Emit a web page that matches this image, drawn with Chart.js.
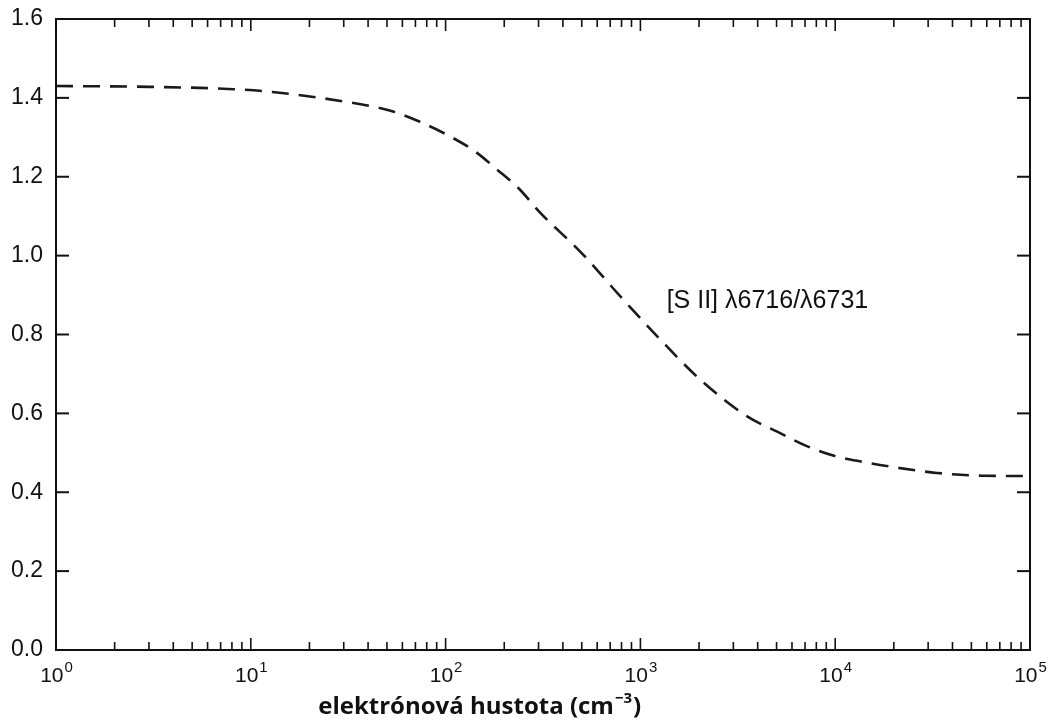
<!DOCTYPE html>
<html>
<head>
<meta charset="utf-8">
<script src="https://cdn.jsdelivr.net/npm/chart.js@4"></script>
<style>
  body { margin: 0; background: #fff; }
  #obal { width: 1052px; height: 726px; }
</style>
</head>
<body>
<div id="obal"><canvas id="graf"></canvas></div>
<script>
// elektrónová hustota (cm^-3) a pomer [S II] 6716/6731, odčítané z obrázka
const hustota = [1, 3, 8.2, 12.9, 37.3, 53.3, 73.3, 102, 141, 182, 239, 303, 505, 811, 1256, 2014, 3516, 5070, 7145, 9954, 13870, 19770, 33270, 57280, 100000];
const pomer = [1.430, 1.428, 1.422, 1.415, 1.383, 1.366, 1.340, 1.306, 1.265, 1.220, 1.169, 1.111, 1.004, 0.890, 0.789, 0.687, 0.593, 0.553, 0.517, 0.492, 0.477, 0.464, 0.449, 0.442, 0.441];

const exponenty = [0, 1, 2, 3, 4, 5];
const yHodnoty = [0, 0.2, 0.4, 0.6, 0.8, 1.0, 1.2, 1.4, 1.6];

const popisKrivky = "[S II] \u03bb6716/\u03bb6731";
const popisKrivkyX = 1364;
const popisKrivkyY = 0.885;
const nazovOsiX = "elektrónová hustota (cm";
const nazovOsiXExp = "\u22123";

// ramik, dovnutra smerujuce ciarky a popisky osi x
const ramcek = {
  id: 'ramcek',
  afterDraw(chart) {
    const { ctx, chartArea: a, scales: { x, y } } = chart;
    const ciara = (x1, y1, x2, y2) => {
      ctx.beginPath(); ctx.moveTo(x1, y1); ctx.lineTo(x2, y2); ctx.stroke();
    };
    ctx.save();
    ctx.strokeStyle = '#111';
    ctx.lineWidth = 2;
    ctx.strokeRect(a.left, a.top, a.right - a.left, a.bottom - a.top);

    yHodnoty.forEach(v => {
      const py = y.getPixelForValue(v);
      ciara(a.left, py, a.left + 13, py);
      ciara(a.right, py, a.right - 13, py);
    });

    ctx.lineWidth = 1.6;
    exponenty.slice(0, -1).forEach(e => {
      for (let m = 1; m <= 9; m++) {
        const px = x.getPixelForValue(m * Math.pow(10, e));
        const d = m === 1 ? 12 : 8;
        ciara(px, a.bottom, px, a.bottom - d);
        ciara(px, a.top, px, a.top + d);
      }
    });

    // popisky 10^n
    ctx.fillStyle = '#111';
    ctx.textBaseline = 'alphabetic';
    ctx.textAlign = 'left';
    exponenty.forEach(e => {
      const px = x.getPixelForValue(Math.pow(10, e));
      ctx.font = '21px "Liberation Sans", Arial, sans-serif';
      const w1 = ctx.measureText('10').width;
      ctx.font = '15px "Liberation Sans", Arial, sans-serif';
      const w2 = ctx.measureText(String(e)).width;
      const zac = px - (w1 + w2) / 2;
      ctx.font = '21px "Liberation Sans", Arial, sans-serif';
      ctx.fillText('10', zac, a.bottom + 32);
      ctx.font = '15px "Liberation Sans", Arial, sans-serif';
      ctx.fillText(String(e), zac + w1 + 1, a.bottom + 22);
    });

    // popis krivky
    ctx.font = '25px "Liberation Sans", Arial, sans-serif';
    ctx.textBaseline = 'middle';
    ctx.fillText(popisKrivky, x.getPixelForValue(popisKrivkyX), y.getPixelForValue(popisKrivkyY));

    // nazov osi x
    ctx.textBaseline = 'alphabetic';
    ctx.font = 'bold 24px "Open Sans", sans-serif';
    const t1 = ctx.measureText(nazovOsiX).width;
    ctx.font = 'bold 15px "Open Sans", sans-serif';
    const t2 = ctx.measureText(nazovOsiXExp).width;
    ctx.font = 'bold 24px "Open Sans", sans-serif';
    const t3 = ctx.measureText(')').width;
    const stred = a.left + 0.434 * (a.right - a.left);
    let zx = stred - (t1 + t2 + t3) / 2;
    const zy = a.bottom + 64;
    ctx.fillText(nazovOsiX, zx, zy);
    ctx.font = 'bold 15px "Open Sans", sans-serif';
    ctx.fillText(nazovOsiXExp, zx + t1 + 1, zy - 11);
    ctx.font = 'bold 24px "Open Sans", sans-serif';
    ctx.fillText(')', zx + t1 + t2 + 2, zy);
    ctx.restore();
  }
};

const ctx = document.getElementById('graf').getContext('2d');
new Chart(ctx, {
  type: 'line',
  data: {
    datasets: [{
      data: hustota.map((h, i) => ({ x: h, y: pomer[i] })),
      borderColor: '#1a1a1a',
      borderWidth: 2.6,
      borderDash: [17, 10],
      pointRadius: 0,
      fill: false,
      cubicInterpolationMode: 'monotone'
    }]
  },
  options: {
    responsive: true,
    maintainAspectRatio: false,
    animation: false,
    layout: { padding: { top: 19, right: 22, left: 0, bottom: 0 } },
    plugins: {
      legend: { display: false },
      tooltip: { enabled: false }
    },
    scales: {
      x: {
        type: 'logarithmic',
        min: 1,
        max: 100000,
        grid: { display: false },
        border: { display: false },
        ticks: { display: false },
        afterFit: (s) => { s.height = 76; s.paddingLeft = 0; s.paddingRight = 0; }
      },
      y: {
        min: 0,
        max: 1.6,
        grid: { display: false, drawTicks: false },
        border: { display: false },
        ticks: {
          stepSize: 0.2,
          padding: 13,
          color: '#111',
          font: { family: 'Liberation Sans', size: 23 },
          callback: (v) => v.toFixed(1)
        },
        afterFit: (s) => { s.width = 56; s.paddingTop = 0; s.paddingBottom = 0; }
      }
    }
  },
  plugins: [ramcek]
});
</script>
</body>
</html>
